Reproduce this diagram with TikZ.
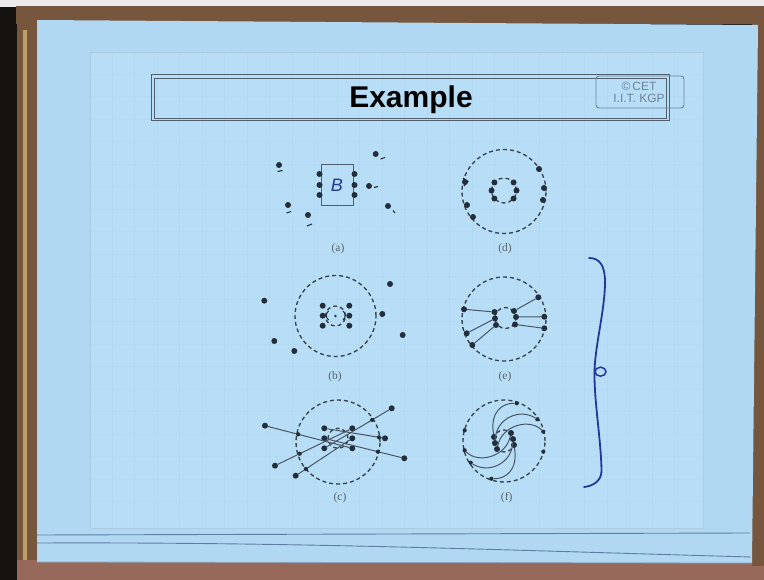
\documentclass[tikz,border=0pt]{standalone}
\usepackage{fontspec}
\setmainfont{Liberation Serif}
\newfontfamily\titlefont{Liberation Sans}
\usetikzlibrary{calc}
\definecolor{paper}{RGB}{176,216,243}
\definecolor{slidec}{RGB}{184,222,247}
\definecolor{gridc}{RGB}{150,190,218}
\definecolor{ink}{RGB}{34,46,58}
\definecolor{linec}{RGB}{70,86,100}
\definecolor{pen}{RGB}{35,55,150}
\definecolor{wood}{RGB}{118,86,60}
\definecolor{woodlight}{RGB}{190,160,100}
\definecolor{floorc}{RGB}{150,105,90}
\definecolor{darkside}{RGB}{22,18,16}
\definecolor{stackc}{RGB}{95,125,160}
\definecolor{cetc}{RGB}{110,130,150}
\definecolor{boxc}{RGB}{80,95,110}
\begin{document}
\begin{tikzpicture}[x=1pt,y=-1pt,
  dot/.style={circle,fill=ink,inner sep=0pt,minimum size=6pt},
  sdot/.style={circle,fill=ink,inner sep=0pt,minimum size=4.2pt},
  dcirc/.style={draw=ink!90,line width=1.35pt,dash pattern=on 4pt off 3pt},
  wire/.style={draw=linec,line width=1pt},
  tick/.style={draw=ink,line width=1.1pt},
  lab/.style={font=\fontsize{11.5}{13}\selectfont,text=ink!75},
  stack/.style={draw=stackc,line width=0.9pt}]
\useasboundingbox (0,0) rectangle (764,580);
% ---------- photo surroundings ----------
\fill[darkside] (0,0) rectangle (764,580);
\fill[black!8] (0,0) rectangle (764,7);
\fill[wood] (16,6) rectangle (764,24);
\fill[wood] (17,6) rectangle (39,574);
\fill[woodlight] (23,30) rectangle (27,560);
\fill[floorc] (17,560) rectangle (764,580);
\fill[wood] (752,20) rectangle (764,566);
\fill[paper] (37,20) -- (758,25) -- (752,563) -- (37,562) -- cycle;
\draw[stack] (37,535) -- (750,533);
\draw[stack] (37,543) .. controls (300,542) and (500,550) .. (751,557);
\draw[stackc!70,line width=0.8pt] (37,562) -- (752,563);
% ---------- slide ----------
\fill[slidec] (90,52) rectangle (703,528);
\foreach \gx in {112,134.5,...,690} \draw[gridc,opacity=0.15,line width=0.4pt] (\gx,53) -- (\gx,527);
\foreach \gy in {74,96.5,...,520} \draw[gridc,opacity=0.08,line width=0.4pt] (91,\gy) -- (702,\gy);
\draw[gridc!80,line width=0.5pt] (90,52) rectangle (703,528);
% ---------- title ----------
\draw[boxc,line width=1pt] (151,75) rectangle (669,121);
\draw[boxc,line width=0.7pt] (154,78) rectangle (666,118);
\node (title) at (411,100) {\titlefont\bfseries\fontsize{30}{32}\selectfont Example};
\draw[cetc,line width=0.9pt,rounded corners=3pt] (596,76) rectangle (684,108);
\node[text=cetc,font=\titlefont\fontsize{12}{12}\selectfont] (cet1) at (639,86) {\textcopyright\,CET};
\node[text=cetc,font=\titlefont\fontsize{12}{12}\selectfont] (cet2) at (639,98) {I.I.T. KGP};
% ---------- (a) ----------
\draw[draw=boxc,line width=1pt] (321,165) rectangle (353,206);
\node[text=pen,font=\titlefont\fontsize{18}{18}\selectfont] (bchip) at (337,185) {\itshape B};
\foreach \py [count=\i] in {174,185,195} {
  \node[dot] (al\i) at (319.5,\py) {};
  \node[dot] (ar\i) at (354.5,\py) {};
}
\node[dot] (af1) at (279,165) {};   \draw[tick] (277.5,171.5) -- (282.5,170.5);
\node[dot] (af2) at (375.7,154) {}; \draw[tick] (380.5,159) -- (385,157.5);
\node[dot] (af3) at (369,186) {};   \draw[tick] (374,187.5) -- (378,186.5);
\node[dot] (af4) at (288,205) {};   \draw[tick] (286.5,213) -- (291,211.5);
\node[dot] (af5) at (308,215) {};   \draw[tick] (307,226) -- (312,224);
\node[dot] (af6) at (388,206) {};   \draw[tick] (393,210.5) -- (395,213);
\node[lab] (la) at (338,249) {(a)};
% ---------- (d) ----------
\draw[dcirc] (504,191.5) circle[radius=42pt];
\draw[dcirc] (504,190.5) circle[radius=12.5pt];
\foreach \a [count=\i] in {140,180,220,-40,0,40}
  \node[dot] (di\i) at ($(504,190.5)+(\a:12.5)$) {};
\node[dot] (do1) at (465,182) {};
\draw[tick] (463,178) -- (468,181.5) -- (464,186);
\node[dot] (do2) at (467,205) {};
\node[dot] (do3) at (473,217) {};
\node[dot] (do4) at (539,169) {};
\node[dot] (do5) at (544,188) {};
\node[dot] (do6) at (543,200) {};
\node[lab] (ld) at (505,249) {(d)};
% ---------- (b) ----------
\draw[dcirc] (335.5,316) circle[radius=40.5pt];
\draw[dcirc] (335.5,316) circle[radius=10pt];
\node[sdot,minimum size=2.8pt] (bc) at (335.5,316) {};
\foreach \py [count=\i] in {305.7,315.7,325.7} {
  \node[dot] (bl\i) at (322.7,\py) {};
  \node[dot] (br\i) at (349.3,\py) {};
}
\draw[ink,line width=1pt] (328.5,311) .. controls (325.5,314) and (325.5,317) .. (328.5,320);
\draw[ink,line width=1pt] (343,311) .. controls (346,314) and (346,317) .. (343,320);
\node[dot] (bf1) at (264.3,300.7) {};
\node[dot] (bf2) at (274.3,341) {};
\node[dot] (bf3) at (294.3,351) {};
\node[dot] (bf4) at (390,284) {};
\node[dot] (bf5) at (382.3,314) {};
\node[dot] (bf6) at (402.7,335) {};
\node[lab] (lb) at (335,377) {(b)};
% ---------- (e) ----------
\draw[dcirc] (504,319) circle[radius=42pt];
\draw[dcirc] (505.5,318) circle[radius=10.5pt];
\node[dot] (eo1) at (464,309.3) {};
\node[dot] (eo2) at (466.7,333.3) {};
\node[dot] (eo3) at (472.3,345) {};
\node[dot] (eo4) at (538.3,297.3) {};
\node[dot] (eo5) at (544.3,316.7) {};
\node[dot] (eo6) at (544.3,328.3) {};
\node[dot] (ei1) at (494.5,312) {};
\node[dot] (ei2) at (495,318.5) {};
\node[dot] (ei3) at (496,325) {};
\node[dot] (ei4) at (514,311) {};
\node[dot] (ei5) at (516,317) {};
\node[dot] (ei6) at (515,324.5) {};
\draw[wire] (eo1) -- (ei1);
\draw[wire] (eo2) -- (ei2);
\draw[wire] (eo3) -- (ei3);
\draw[wire] (eo4) -- (ei4);
\draw[wire] (eo5) -- (ei5);
\draw[wire] (eo6) -- (ei6);
\node[lab] (le) at (505,377) {(e)};
% ---------- (c) ----------
\draw[dcirc] (338,442) circle[radius=42pt];
\draw[dcirc] (338,438.3) circle[radius=10pt];
\foreach \py [count=\i] in {428.3,438.3,448.3} {
  \node[dot] (cl\i) at (324.3,\py) {};
  \node[dot] (cr\i) at (352.3,\py) {};
}
\node[dot] (co1) at (265,425.7) {};
\node[dot] (co2) at (391.7,408.3) {};
\node[dot] (co3) at (275,465.7) {};
\node[dot] (co4) at (295.7,475.7) {};
\node[dot] (co5) at (404.3,458.3) {};
\node[dot] (co6) at (385,438.3) {};
\draw[wire] (co1) -- (cr3);
\draw[wire] (co2) -- (cl3);
\draw[wire] (co3) -- (cr1);
\draw[wire] (co4) -- (cr2);
\draw[wire] (co5) -- (cl2);
\draw[wire] (co6) -- (cl1);
\node[sdot] (cb1) at ($(co1)!0.38!(cr3)$) {};
\node[sdot] (cb2) at ($(co2)!0.29!(cl3)$) {};
\node[sdot] (cb3) at ($(co3)!0.32!(cr1)$) {};
\node[sdot] (cb4) at ($(co4)!0.18!(cr2)$) {};
\node[sdot] (cb5) at ($(co5)!0.33!(cl2)$) {};
\node[sdot] (cb6) at ($(co6)!0.10!(cl1)$) {};
\node[lab] (lc) at (340,498) {(c)};
% ---------- (f) ----------
\draw[dcirc] (504,441) circle[radius=41pt];
\draw[dcirc] (504,441) circle[radius=11pt];
\node[dot] (fl1) at (494,437) {};
\node[dot] (fl2) at (495,443) {};
\node[dot] (fl3) at (497,449) {};
\node[dot] (fr1) at (514,445) {};
\node[dot] (fr2) at (513,439) {};
\node[dot] (fr3) at (511,433) {};
\node[sdot] (fu1) at (516.7,403.3) {};
\node[sdot] (fu2) at (537.3,419.3) {};
\node[sdot] (fu3) at (543.3,431.7) {};
\node[sdot] (fu4) at (543.3,451.7) {};
\node[sdot] (fd1) at (491.3,478.7) {};
\node[sdot] (fd2) at (470.7,462.7) {};
\node[sdot] (fd3) at (464.7,450.3) {};
\node[sdot] (fd4) at (464.7,430.3) {};
\draw[wire] (fl1) .. controls (490,412) and (502,403) .. (fu1);
\draw[wire] (fl2) .. controls (496,418) and (520,408) .. (fu2);
\draw[wire] (fl3) .. controls (502,425) and (530,418) .. (fu3);
\draw[wire] (fr1) .. controls (518,470) and (506,479) .. (fd1);
\draw[wire] (fr2) .. controls (512,464) and (488,474) .. (fd2);
\draw[wire] (fr3) .. controls (506,457) and (478,464) .. (fd3);
\node[lab] (lf) at (506.7,498) {(f)};
% ---------- handwritten brace ----------
\draw[pen,line width=1.8pt,line cap=round] (589,258) .. controls (600,258) and (605,266) .. (605,282)
  .. controls (605,310) and (595,345) .. (594.5,372)
  .. controls (594,400) and (601,440) .. (601.5,470)
  .. controls (602,480) and (594,486) .. (584,487);
\draw[pen,line width=1.5pt] (600.5,371.7) ellipse[x radius=5.5pt,y radius=4.5pt];
\end{tikzpicture}
\end{document}
